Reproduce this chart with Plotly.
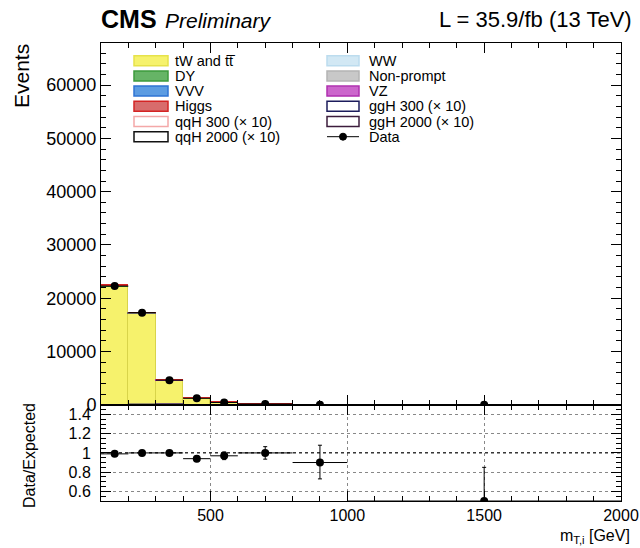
import plotly.graph_objects as go
from plotly.subplots import make_subplots

# ---------------- data ----------------
bin_lo = [100, 200, 300, 400, 500, 600, 800, 1000]
bin_hi = [200, 300, 400, 500, 600, 800, 1000, 2000]

# background stack (bottom -> top)
tw_tt = [22100, 17000, 4520, 1255, 440, 145, 31, 1.8]
ww = [60, 50, 20, 8, 3, 1, 0.5, 0.05]
dy = [50, 40, 15, 5, 2, 0.5, 0.2, 0.02]
vvv = [5, 4, 2, 1, 0.5, 0.2, 0.05, 0.01]
vz = [20, 16, 8, 3, 1.5, 0.8, 0.3, 0.05]
nonprompt = [150, 100, 35, 10, 3, 1.0, 0.4, 0.03]
higgs = [115, 90, 20, 8, 5, 1.5, 0.5, 0.04]

# signals (x10)
ggh300 = [60, 140, 220, 60, 20, 6, 1, 0.2]
qqh300 = [30, 70, 110, 30, 10, 3, 0.5, 0.1]
ggh2000 = [1, 2, 3, 4, 5, 8, 10, 25]
qqh2000 = [2, 3, 4, 5, 6, 9, 12, 30]

# data
data_vals = [22280, 17300, 4620, 1215, 441, 150, 30, 1]
data_err = [150, 130, 68, 35, 21, 12, 5.5, 1]

# ratio data / expected
ratio_vals = [0.99, 1.0, 1.0, 0.94, 0.97, 1.0, 0.9, 0.5]
ratio_err_up = [0.01, 0.01, 0.015, 0.03, 0.04, 0.065, 0.18, 0.35]
ratio_err_dn = [0.01, 0.01, 0.015, 0.03, 0.04, 0.065, 0.17, 0.35]

x_ticks = [500, 1000, 1500, 2000]
x_ticklabels = ["500", "1000", "1500", "2000"]
y_ticks = [0, 10000, 20000, 30000, 40000, 50000, 60000]
y_ticklabels = ["0", "10000", "20000", "30000", "40000", "50000", "60000"]
ratio_ticks = [0.6, 0.8, 1.0, 1.2, 1.4]
ratio_ticklabels = ["0.6", "0.8", "1", "1.2", "1.4"]

legend_col1 = ["tW and tt\u0305", "DY", "VVV", "Higgs", "qqH 300 (\u00d7 10)", "qqH 2000 (\u00d7 10)"]
legend_col1_fill = ["#f6f26c", "#66b466", "#5c9ce2", "#d86c6c", "white", "white"]
legend_col1_line = ["#e6e24a", "#3c9a3c", "#2f74d4", "#d42424", "#f4a8a8", "#111111"]
legend_col2 = ["WW", "Non-prompt", "VZ", "ggH 300 (\u00d7 10)", "ggH 2000 (\u00d7 10)", "Data"]
legend_col2_fill = ["#d2e8f4", "#c8c8c8", "#cc66cc", "white", "white", None]
legend_col2_line = ["#bcdcee", "#b4b4b4", "#b030b0", "#1c1c5c", "#3c1c3c", "black"]

# ---------------- figure ----------------
centers = [(a + b) / 2 for a, b in zip(bin_lo, bin_hi)]
widths = [b - a for a, b in zip(bin_lo, bin_hi)]
halfw = [w / 2 for w in widths]

FONT = "Liberation Sans, Arial, Helvetica, sans-serif"

fig = make_subplots(rows=2, cols=1, shared_xaxes=True, vertical_spacing=0,
                    row_heights=[0.79, 0.21])

stack = [
    ("tW and tt", tw_tt, "#f6f26c", "#d8d44a"),
    ("WW", ww, "#d2e8f4", "#bcdcee"),
    ("DY", dy, "#66b466", "#3c9a3c"),
    ("VVV", vvv, "#5c9ce2", "#2f74d4"),
    ("VZ", vz, "#cc66cc", "#b030b0"),
    ("Non-prompt", nonprompt, "#c8c8c8", "#707070"),
    ("Higgs", higgs, "#d86c6c", "#d42424"),
]
for name, vals, fc, lc in stack:
    fig.add_trace(go.Bar(x=centers, y=vals, width=widths, name=name,
                         marker=dict(color=fc, line=dict(color=lc, width=1)),
                         showlegend=False), row=1, col=1)

# signal step lines
for name, vals, col in [("ggH 300", ggh300, "#1c1c5c"), ("qqH 300", qqh300, "#f4a8a8"),
                        ("ggH 2000", ggh2000, "#3c1c3c"), ("qqH 2000", qqh2000, "#111111")]:
    xs = bin_lo + [bin_hi[-1]]
    ys = vals + [vals[-1]]
    fig.add_trace(go.Scatter(x=xs, y=ys, mode="lines", line=dict(color=col, width=1, shape="hv"),
                             showlegend=False), row=1, col=1)

fig.add_trace(go.Scatter(x=centers, y=data_vals, mode="markers",
                         marker=dict(color="black", size=8),
                         error_x=dict(type="data", array=halfw, color="black", thickness=1, width=0),
                         error_y=dict(type="data", array=data_err, color="black", thickness=1, width=0),
                         showlegend=False), row=1, col=1)

fig.add_trace(go.Scatter(x=centers, y=ratio_vals, mode="markers",
                         marker=dict(color="black", size=8),
                         error_x=dict(type="data", array=halfw, color="black", thickness=1, width=0),
                         error_y=dict(type="data", symmetric=False, array=ratio_err_up,
                                      arrayminus=ratio_err_dn, color="black", thickness=1, width=2),
                         showlegend=False, cliponaxis=True), row=2, col=1)

fig.update_layout(barmode="stack", bargap=0,
                  width=640, height=548,
                  margin=dict(l=101, r=19, t=43, b=47),
                  plot_bgcolor="white", paper_bgcolor="white",
                  font=dict(family=FONT, color="black"),
                  showlegend=False)

axis_common = dict(showline=True, linecolor="black", linewidth=1, mirror="allticks",
                   ticks="inside", tickcolor="black", zeroline=False, automargin=False)

fig.update_xaxes(range=[100, 2000.01], tickvals=x_ticks, ticktext=x_ticklabels, ticklen=10,
                 ticklabeloverflow="allow",
                 minor=dict(dtick=100, tick0=0, ticklen=5, ticks="inside", tickcolor="black"),
                 **axis_common)
fig.update_xaxes(showticklabels=False, showgrid=False, row=1, col=1)
fig.update_xaxes(showticklabels=True, tickfont=dict(size=16, family=FONT),
                 showgrid=True, gridcolor="#888888", griddash="dot", gridwidth=1,
                 row=2, col=1)

fig.update_yaxes(range=[0, 67900], tickvals=y_ticks, ticktext=y_ticklabels, ticklen=10,
                 tickfont=dict(size=18, family=FONT), showgrid=False,
                 minor=dict(dtick=2000, tick0=0, ticklen=5, ticks="inside", tickcolor="black"),
                 row=1, col=1, **axis_common)
fig.update_yaxes(range=[0.5, 1.5], tickvals=ratio_ticks, ticktext=ratio_ticklabels, ticklen=10,
                 tickfont=dict(size=16, family=FONT), ticklabelstandoff=6,
                 showgrid=True, gridcolor="#888888", griddash="dot", gridwidth=1,
                 minor=dict(dtick=0.05, tick0=0, ticklen=5, ticks="inside", tickcolor="black"),
                 row=2, col=1, **axis_common)

# unity line in ratio
fig.add_shape(type="line", xref="x2", yref="y2", x0=100, x1=2000, y0=1, y1=1,
              line=dict(color="black", width=1, dash="dot"))

# ---------------- text ----------------
W, H = 520.0, 458.0
def px(x):
    return (x - 101) / W
def py(y):
    return (501 - y) / H

annots = [
    dict(text="<b>CMS</b>", x=px(99), y=py(19), xanchor="left", yanchor="middle",
         font=dict(size=25, family=FONT)),
    dict(text="<i>Preliminary</i>", x=px(163), y=py(20), xanchor="left", yanchor="middle",
         font=dict(size=21, family=FONT)),
    dict(text="L = 35.9/fb (13 TeV)", x=px(634), y=py(19), xanchor="right", yanchor="middle",
         font=dict(size=22, family=FONT)),
    dict(text="Events", x=px(21), y=py(42), xanchor="center", yanchor="top", textangle=-90,
         font=dict(size=21, family=FONT)),
    dict(text="Data/Expected", x=px(29), y=py(456), xanchor="center", yanchor="middle", textangle=-90,
         font=dict(size=16, family=FONT)),
    dict(text="m<sub>T,i</sub> [GeV]", x=px(632), y=py(536), xanchor="right", yanchor="middle",
         font=dict(size=16, family=FONT)),
]

shapes = []
row_y = [60.7 + 15.2 * i for i in range(6)]
for col_idx, (names, fills, lines, bx0, bx1, tx) in enumerate([
        (legend_col1, legend_col1_fill, legend_col1_line, 134, 168, 173),
        (legend_col2, legend_col2_fill, legend_col2_line, 327, 359, 367)]):
    for i, nm in enumerate(names):
        yc = row_y[i]
        if fills[i] is None:
            shapes.append(dict(type="line", xref="paper", yref="paper",
                               x0=px(bx0), x1=px(bx1), y0=py(yc), y1=py(yc),
                               line=dict(color="black", width=1)))
            shapes.append(dict(type="circle", xref="paper", yref="paper",
                               x0=px((bx0 + bx1) / 2 - 3.5), x1=px((bx0 + bx1) / 2 + 3.5),
                               y0=py(yc + 3.5), y1=py(yc - 3.5),
                               fillcolor="black", line=dict(color="black", width=1)))
        else:
            shapes.append(dict(type="rect", xref="paper", yref="paper",
                               x0=px(bx0), x1=px(bx1), y0=py(yc + 5), y1=py(yc - 5),
                               fillcolor=fills[i], line=dict(color=lines[i], width=1.5)))
        annots.append(dict(text=nm, x=px(tx), y=py(yc), xanchor="left", yanchor="middle",
                           font=dict(size=14.5, family=FONT)))

for a in annots:
    a.update(xref="paper", yref="paper", showarrow=False)
fig.update_layout(annotations=annots)
for s in shapes:
    fig.add_shape(**s)

fig.write_html("out.html", config={"displayModeBar": False},
               post_script="document.body.style.margin='0px';document.body.style.overflow='hidden';")
